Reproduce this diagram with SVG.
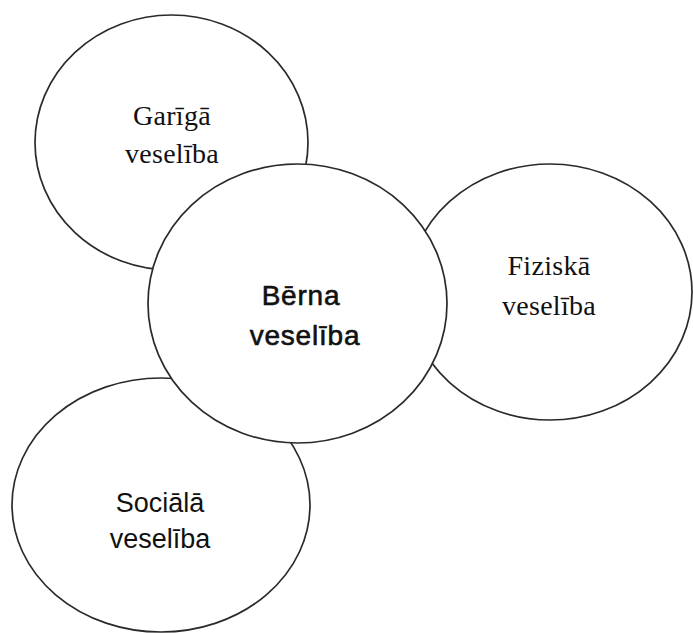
<svg xmlns="http://www.w3.org/2000/svg" width="693" height="633" viewBox="0 0 693 633">
<style>
.e{fill:#fff;stroke:#2a2a2a;stroke-width:1.7}
.serif{font-family:"Liberation Serif","Times New Roman",serif;font-size:28px;fill:#111;text-anchor:middle;letter-spacing:0.3px}
.sans{font-family:"Liberation Sans",Arial,sans-serif;font-size:27px;fill:#111;text-anchor:middle}
.bold{font-family:"Liberation Sans",Arial,sans-serif;font-size:28px;fill:#111;stroke:#111;stroke-width:0.6px;text-anchor:middle;letter-spacing:0.8px}
</style>
<rect width="693" height="633" fill="#fff"/>
<g id="node-gariga">
<ellipse class="e" cx="171.5" cy="142.5" rx="136.5" ry="127.5"/>
<text class="serif" x="172" y="125">Garīgā</text>
<text class="serif" x="172" y="163">veselība</text>
</g>
<g id="node-sociala">
<ellipse class="e" cx="161" cy="505" rx="149" ry="127"/>
<text class="sans" x="160" y="512">Sociālā</text>
<text class="sans" x="160" y="548">veselība</text>
</g>
<g id="node-fiziska">
<ellipse class="e" cx="550" cy="292" rx="142" ry="128"/>
<text class="serif" x="549" y="275">Fiziskā</text>
<text class="serif" x="549" y="315">veselība</text>
</g>
<g id="node-berna">
<ellipse class="e" cx="297.5" cy="303.5" rx="149.5" ry="139.5"/>
<text class="bold" x="301" y="305">Bērna</text>
<text class="bold" x="305" y="345">veselība</text>
</g>
<g id="connectors"/>
</svg>
